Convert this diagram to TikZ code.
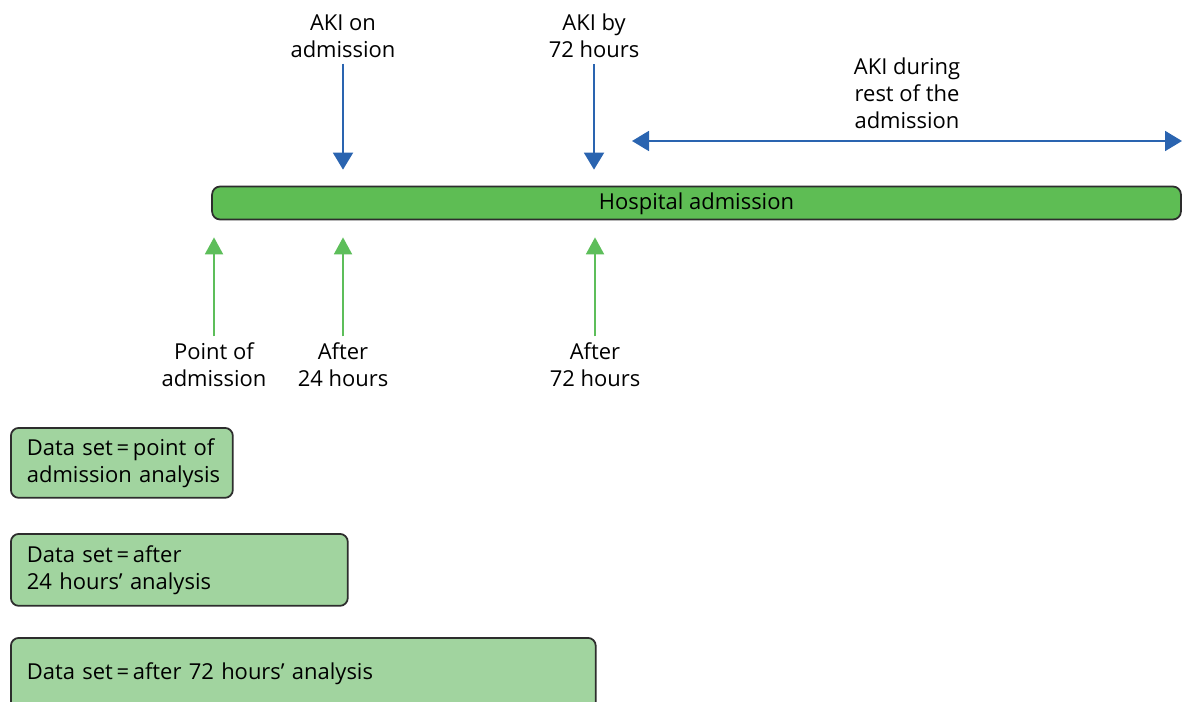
\documentclass[tikz,border=0pt]{standalone}
\usepackage{fontspec}
\setmainfont{Open Sans}
\usetikzlibrary{arrows.meta}
\definecolor{admgreen}{RGB}{94, 189, 84}
\definecolor{setgreen}{RGB}{161, 212, 159}
\definecolor{akiblue}{RGB}{42, 100, 176}
\definecolor{markgreen}{RGB}{93, 190, 90}
\definecolor{edgegray}{RGB}{45, 45, 45}

\begin{document}
\begin{tikzpicture}[x=0.02cm, y=-0.02cm,
    font=\fontsize{12.5}{15.4}\selectfont,
    lbl/.style={align=center},
    akiarrow/.style={-{Triangle[length=0.34cm,width=0.4cm]}, akiblue, line width=1.1pt, shorten >=0.32cm},
    markarrow/.style={-{Triangle[length=0.34cm,width=0.36cm]}, markgreen, line width=1.1pt, shorten >=0.34cm},
    setbox/.style={draw=edgegray, fill=setgreen, line width=1pt, rounded corners=0.16cm,
      anchor=north west, align=left, inner xsep=0.32cm, minimum height=1.44cm}]
    \clip (0,0) rectangle (1182,702);
    % timeline
    \node[draw=edgegray, fill=admgreen, line width=1pt, rounded corners=0.16cm,
      minimum width=19.38cm, minimum height=0.66cm, inner sep=0pt,
      text height=1.6ex, text depth=0.2ex] (adm) at (696.5,203) {Hospital admission};
    % AKI above
    \node[lbl] (akion) at (343,36) {AKI on\\admission};
    \node[lbl] (akiby) at (594,36) {AKI by\\72 hours};
    \node[lbl] (akirest) at (907,93) {AKI during\\rest of the\\admission};
    \coordinate (restL) at (632,141);
    \coordinate (restR) at (1182,141);
    \draw[akiarrow] (akion.south) -- (akion.south |- adm.north);
    \draw[akiarrow] (akiby.south) -- (akiby.south |- adm.north);
    \draw[{Triangle[length=0.34cm,width=0.4cm]}-{Triangle[length=0.34cm,width=0.4cm]}, akiblue, line width=1.1pt] (restL) -- (restR);
    % time points below
    \node[lbl] (pt0) at (214,364.5) {Point of\\admission};
    \node[lbl] (pt24) at (343,364.5) {After\\24 hours};
    \node[lbl] (pt72) at (595,364.5) {After\\72 hours};
    \draw[markarrow] (pt0.north) -- (pt0.north |- adm.south);
    \draw[markarrow] (pt24.north) -- (pt24.north |- adm.south);
    \draw[markarrow] (pt72.north) -- (pt72.north |- adm.south);
    % data sets
    \node[setbox, text width=3.8cm, minimum height=1.4cm] (set0) at (10,427) {\mbox{Data set\,=\,point of}\\\mbox{admission analysis}};
    \node[setbox, text width=6.1cm] (set24) at (10,533) {\mbox{Data set\,=\,after}\\\mbox{24 hours’ analysis}};
    \node[setbox, text width=11.06cm] (set72) at (10,637) {\mbox{Data set\,=\,after 72 hours’ analysis}};
\end{tikzpicture}
\end{document}
